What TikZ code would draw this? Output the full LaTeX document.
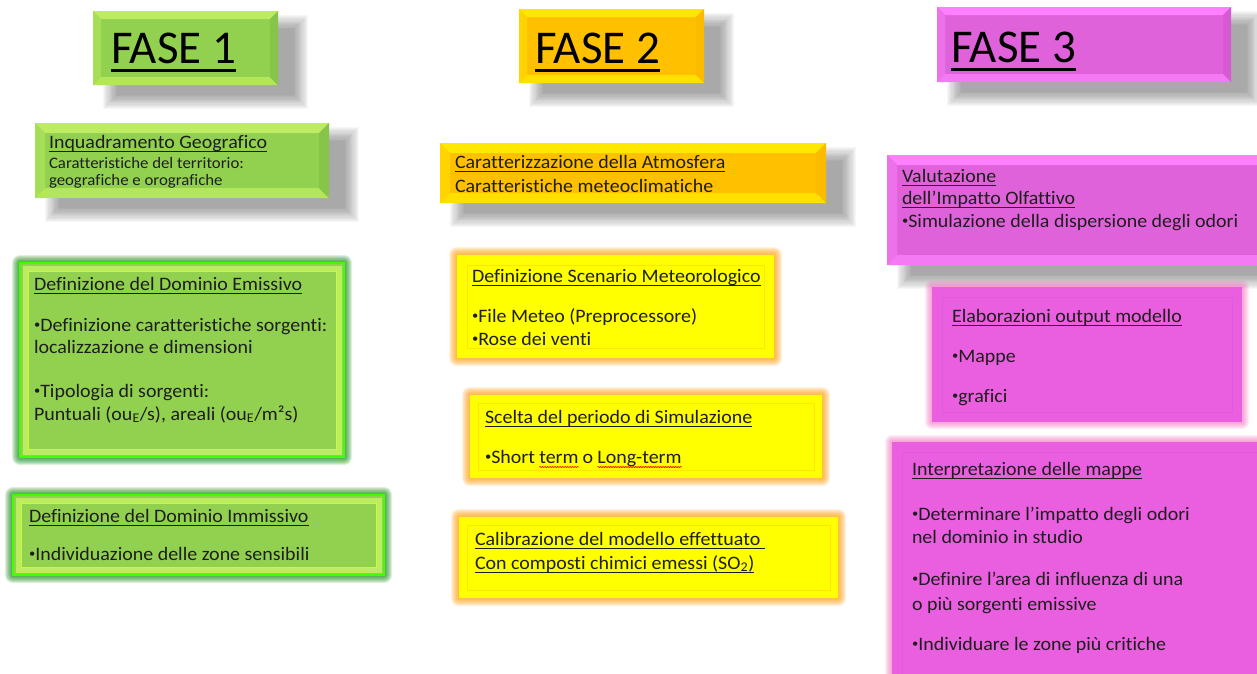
\documentclass[tikz,border=0pt]{standalone}
\usepackage{fontspec}
\setmainfont{Carlito}[Ligatures=NoCommon]
\newfontfamily\bodyf{Carlito}[Ligatures=NoCommon,FakeStretch=1.05]
\usetikzlibrary{fit,decorations.pathmorphing}
\pgfdeclarelayer{bg}
\pgfsetlayers{bg,main}
\definecolor{txtc}{HTML}{1E1E1E}
\definecolor{gmain}{HTML}{92D050}
\definecolor{gtop}{HTML}{BDEB62}
\definecolor{gleft}{HTML}{A6DE5A}
\definecolor{gbot}{HTML}{B4E65C}
\definecolor{gright}{HTML}{86C44A}
\definecolor{omain}{HTML}{FFC000}
\definecolor{otop}{HTML}{FFE800}
\definecolor{oleft}{HTML}{FFD400}
\definecolor{obot}{HTML}{FFE000}
\definecolor{oright}{HTML}{FBBC00}
\definecolor{mmain}{HTML}{E062DA}
\definecolor{mtop}{HTML}{FF80FF}
\definecolor{mleft}{HTML}{EC72EA}
\definecolor{mbot}{HTML}{F47AF4}
\definecolor{mright}{HTML}{D85AD2}
\definecolor{mbox}{HTML}{EA5EE0}
\definecolor{ybox}{HTML}{FFFF00}
\newsavebox\ulbox
\newcommand{\ulx}[1]{\sbox\ulbox{#1}\rlap{\rule[-0.2em]{\wd\ulbox}{0.065em}}\usebox\ulbox}
\newcommand{\bul}{\raisebox{0.14em}{\fontsize{12}{12}\selectfont •}}
\newcommand{\shadowof}[1]{%
 \begin{pgfonlayer}{bg}
 \foreach \k in {0,...,12}{\fill[black,opacity=0.033] ([shift={(24-\k*1.2,18-\k*1.2)}]#1.north west) rectangle ([shift={(16+\k*1.2,10+\k*1.2)}]#1.south east);}
 \end{pgfonlayer}}
\newcommand{\bevel}[6]{%
 \fill[#3] (#1.north west) -- (#1.north east) -- ([shift={(-#2,#2)}]#1.north east) -- ([shift={(#2,#2)}]#1.north west) -- cycle;
 \fill[#4] (#1.north west) -- ([shift={(#2,#2)}]#1.north west) -- ([shift={(#2,-#2)}]#1.south west) -- (#1.south west) -- cycle;
 \fill[#5] (#1.south west) -- ([shift={(#2,-#2)}]#1.south west) -- ([shift={(-#2,-#2)}]#1.south east) -- (#1.south east) -- cycle;
 \fill[#6] (#1.south east) -- ([shift={(-#2,-#2)}]#1.south east) -- ([shift={(-#2,#2)}]#1.north east) -- (#1.north east) -- cycle;}
\newcommand{\glow}[3]{%
 \begin{pgfonlayer}{bg}
 \foreach \k in {1,...,#3}{\fill[#2,opacity=0.13,rounded corners=\k pt] ([shift={(-\k,-\k)}]#1.north west) rectangle ([shift={(\k,\k)}]#1.south east);}
 \end{pgfonlayer}}
\newcommand{\inset}[4]{%
 \draw[#2,line width=#4] ([shift={(#3,#3)}]#1.north west) rectangle ([shift={(-#3,-#3)}]#1.south east);}
\tikzset{
 tx/.style={anchor=base west,inner sep=0pt,outer sep=0pt,text=txtc,font=\bodyf\fontsize{19}{23}\selectfont},
 ttl/.style={tx,text=black,font=\fontsize{47}{56}\selectfont},
 boxn/.style={inner sep=0pt,outer sep=0pt,draw=none},
 gbox/.style={boxn,fill=gmain,draw=green!75!yellow,line width=2pt},
 ybx/.style={boxn,fill=ybox},
 mbx/.style={boxn,fill=mbox},
 squig/.style={red,line width=0.6pt,decorate,decoration={snake,amplitude=0.6pt,segment length=2.5pt}}
}
\begin{document}
\begin{tikzpicture}[x=1pt,y=-1pt]
\useasboundingbox (0,0) rectangle (1257,673);
% ---------- FASE 1 ----------
\node[boxn,fill=gmain,fit={(93,11) (278,85)}] (F1) {};
\shadowof{F1}\bevel{F1}{8}{gtop}{gleft}{gbot}{gright}
\node[ttl] (t1) at (111,63) {\ulx{FASE 1}};
\node[boxn,fill=gmain,fit={(35,123) (329,198)}] (B1) {};
\shadowof{B1}\bevel{B1}{10}{gtop}{gleft}{gbot}{gright}
\node[tx] (iq1) at (49,148) {\ulx{Inquadramento Geografico}};
\node[tx,font=\bodyf\fontsize{16}{17}\selectfont] (iq2) at (49,168) {Caratteristiche del territorio:};
\node[tx,font=\bodyf\fontsize{16}{17}\selectfont] (iq3) at (49,185) {geografiche e orografiche};
\node[gbox,fit={(20,263) (344,457)}] (B2) {};
\glow{B2}{green!50!black}{8}
\inset{B2}{gtop}{5}{5pt}\inset{B2}{green!30!yellow!80!white}{8}{0.8pt}
\node[tx] (e1) at (34,290) {\ulx{Definizione del Dominio Emissivo}};
\node[tx] (e2) at (34,331) {\bul Definizione caratteristiche sorgenti:};
\node[tx] (e3) at (34,353) {localizzazione e dimensioni};
\node[tx] (e4) at (34,397) {\bul Tipologia di sorgenti:};
\node[tx] (e5) at (34,420) {Puntuali (ou\textsubscript{E}/s), areali (ou\textsubscript{E}/m²s)};
\node[gbox,fit={(13,495) (384,575)}] (B3) {};
\glow{B3}{green!50!black}{8}
\inset{B3}{gtop}{5}{5pt}\inset{B3}{green!30!yellow!80!white}{8}{0.8pt}
\node[tx] (i1) at (29,522) {\ulx{Definizione del Dominio Immissivo}};
\node[tx] (i2) at (29,560) {\bul Individuazione delle zone sensibili};
% ---------- FASE 2 ----------
\node[boxn,fill=omain,fit={(519,9) (704,83)}] (F2) {};
\shadowof{F2}\bevel{F2}{8}{otop}{oleft}{obot}{oright}
\node[ttl] (t2) at (535,63) {\ulx{FASE 2}};
\node[boxn,fill=omain,fit={(440,143) (826,203)}] (C1) {};
\shadowof{C1}\bevel{C1}{10}{otop}{oleft}{obot}{oright}
\node[tx] (c1) at (455,168) {\ulx{Caratterizzazione della Atmosfera}};
\node[tx] (c2) at (455,192) {Caratteristiche meteoclimatiche};
\node[ybx,fit={(457,255) (774,358)}] (C2) {};
\glow{C2}{orange!80!yellow}{8}
\inset{C2}{yellow!88!orange}{10}{0.8pt}
\node[tx] (s1) at (472,282) {\ulx{Definizione Scenario Meteorologico}};
\node[tx] (s2) at (472,322) {\bul File Meteo (Preprocessore)};
\node[tx] (s3) at (472,345) {\bul Rose dei venti};
\node[ybx,fit={(470,395) (822,478)}] (C3) {};
\glow{C3}{orange!80!yellow}{8}
\inset{C3}{yellow!88!orange}{8}{0.8pt}
\node[tx] (p1) at (485,423) {\ulx{Scelta del periodo di Simulazione}};
\node[tx] (st1) at (485,463) {\bul Short\kern0.22em};
\node[tx] (st2) at (st1.base east) {term};
\node[tx] (st3) at (st2.base east) {\kern0.22em o\kern0.22em};
\node[tx] (st4) at (st3.base east) {Long-term};
\draw[squig] ([yshift=-4pt]st2.base west) -- ([yshift=-4pt]st2.base east);
\draw[squig] ([yshift=-4pt]st4.base west) -- ([yshift=-4pt]st4.base east);
\node[ybx,fit={(459,517) (838,598)}] (C4) {};
\glow{C4}{orange!80!yellow}{8}
\inset{C4}{yellow!88!orange}{8}{0.8pt}
\node[tx] (k1) at (475,545) {\ulx{Calibrazione del modello effettuato\kern0.22em}};
\node[tx] (k2) at (475,569) {\ulx{Con composti chimici emessi (SO\textsubscript{2})}};
% ---------- FASE 3 ----------
\node[boxn,fill=mmain,fit={(937,7) (1231,82)}] (F3) {};
\shadowof{F3}\bevel{F3}{8}{mtop}{mleft}{mbot}{mright}
\node[ttl] (t3) at (951,62) {\ulx{FASE 3}};
\node[boxn,fill=mmain,fit={(887,155) (1275,265)}] (M1) {};
\shadowof{M1}\bevel{M1}{10}{mtop}{mleft}{mbot}{mright}
\node[tx] (v1) at (902,182) {\ulx{Valutazione}};
\node[tx] (v2) at (902,204) {\ulx{dell’Impatto Olfattivo}};
\node[tx] (v3) at (902,227) {\bul Simulazione della dispersione degli odori};
\node[mbx,fit={(932,287) (1242,422)}] (M2) {};
\glow{M2}{magenta!55!white}{7}
\inset{M2}{mbox!96!black}{10}{0.5pt}
\node[tx] (o1) at (952,322) {\ulx{Elaborazioni output modello}};
\node[tx] (o2) at (952,362) {\bul Mappe};
\node[tx] (o3) at (952,402) {\bul grafici};
\node[mbx,fit={(892,442) (1275,690)}] (M3) {};
\glow{M3}{magenta!55!white}{7}
\inset{M3}{mbox!96!black}{10}{0.5pt}
\node[tx] (n1) at (912,475) {\ulx{Interpretazione delle mappe}};
\node[tx] (n2) at (912,520) {\bul Determinare l’impatto degli odori};
\node[tx] (n3) at (912,543) {nel dominio in studio};
\node[tx] (n4) at (912,585) {\bul Definire l’area di influenza di una};
\node[tx] (n5) at (912,610) {o più sorgenti emissive};
\node[tx] (n6) at (912,650) {\bul Individuare le zone più critiche};
\end{tikzpicture}
\end{document}
